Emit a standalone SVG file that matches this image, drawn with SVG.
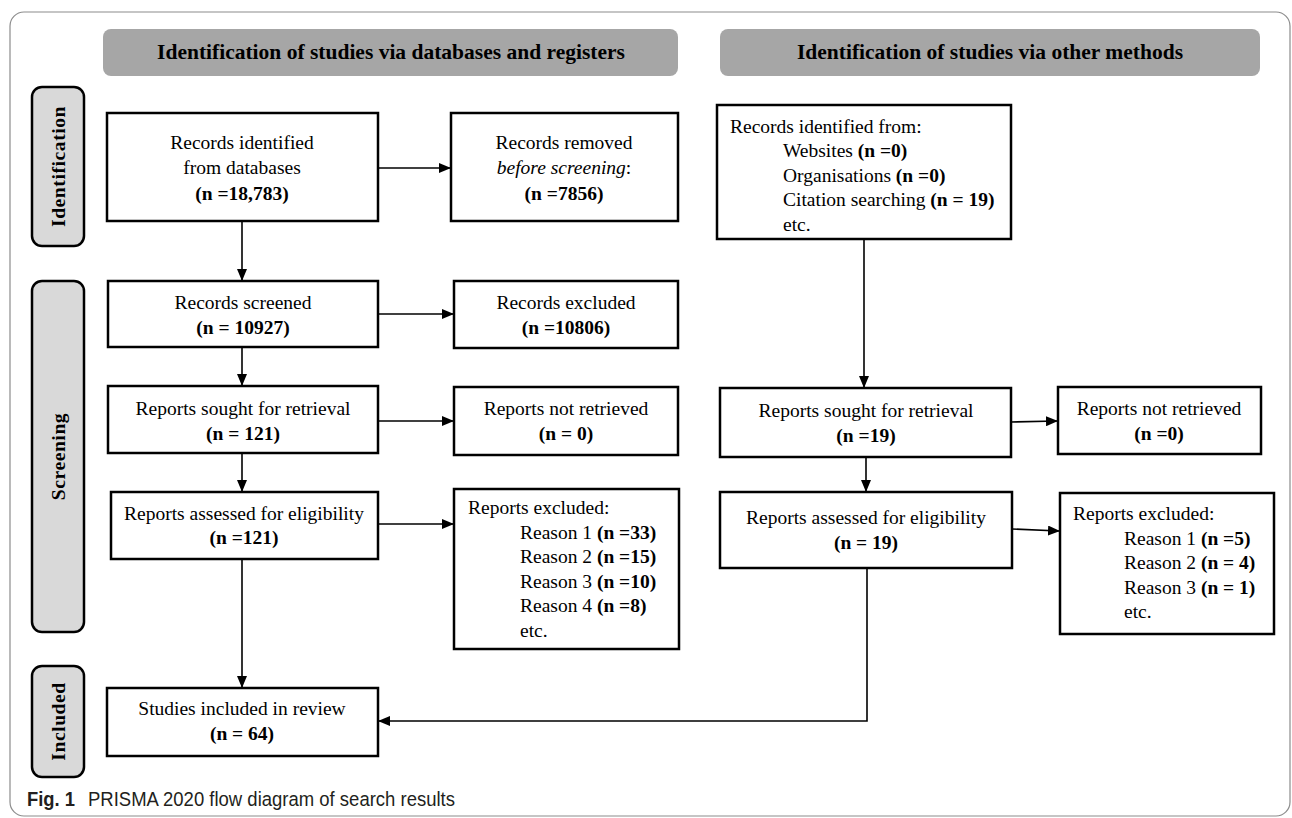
<svg xmlns="http://www.w3.org/2000/svg" width="1292" height="818" viewBox="0 0 1292 818">
<style>
.frame{fill:#fff;stroke:#8c8c8c;stroke-width:1.2}
.hdr{fill:#a6a6a6;stroke:none}
.side{fill:#d9d9d9;stroke:#000;stroke-width:2.5}
.box{fill:#fff;stroke:#000;stroke-width:2.5}
.t{font-family:"Liberation Serif","Times New Roman",serif;font-size:19.5px;fill:#000}
.c{text-anchor:middle}
.b{font-weight:bold}
.ht{font-family:"Liberation Serif","Times New Roman",serif;font-size:21.5px;font-weight:bold;fill:#000;text-anchor:middle}
.st{font-family:"Liberation Serif","Times New Roman",serif;font-size:19.5px;font-weight:bold;fill:#000;text-anchor:middle;letter-spacing:0.6px}
.con{fill:none;stroke:#000;stroke-width:1.6}
.cap{font-family:"Liberation Sans",Arial,sans-serif;font-size:20.5px;fill:#231f20}
</style>
<defs>
<marker id="ah" markerUnits="userSpaceOnUse" markerWidth="12" markerHeight="10" refX="11" refY="5" orient="auto">
<path d="M0,0 L12,5 L0,10 Z" fill="#000"/>
</marker>
</defs>
<rect class="frame" x="10" y="12" width="1280" height="804" rx="14"/>

<g id="header-db"><rect class="hdr" x="103" y="29" width="575" height="47" rx="8"/><text class="ht" x="391" y="59">Identification of studies via databases and registers</text></g>
<g id="header-other"><rect class="hdr" x="720" y="29" width="540" height="47" rx="8"/><text class="ht" x="990" y="59">Identification of studies via other methods</text></g>

<g id="label-identification"><rect class="side" x="32" y="87" width="52" height="159" rx="10"/><text class="st" transform="translate(65,166.5) rotate(-90)">Identification</text></g>
<g id="label-screening"><rect class="side" x="32" y="281" width="52" height="351" rx="10"/><text class="st" transform="translate(65,456.5) rotate(-90)">Screening</text></g>
<g id="label-included"><rect class="side" x="32" y="666" width="52" height="111" rx="10"/><text class="st" transform="translate(65,721.5) rotate(-90)">Included</text></g>

<g id="connectors">
<line class="con" x1="378" y1="168" x2="450" y2="168" marker-end="url(#ah)"/>
<line class="con" x1="242" y1="221" x2="242" y2="280" marker-end="url(#ah)"/>
<line class="con" x1="378" y1="314" x2="453" y2="314" marker-end="url(#ah)"/>
<line class="con" x1="242" y1="347" x2="242" y2="385" marker-end="url(#ah)"/>
<line class="con" x1="378" y1="421" x2="453" y2="421" marker-end="url(#ah)"/>
<line class="con" x1="242" y1="453" x2="242" y2="491" marker-end="url(#ah)"/>
<line class="con" x1="378" y1="524" x2="453" y2="524" marker-end="url(#ah)"/>
<line class="con" x1="242" y1="559" x2="242" y2="687" marker-end="url(#ah)"/>
<line class="con" x1="864" y1="239" x2="864" y2="387" marker-end="url(#ah)"/>
<line class="con" x1="1011" y1="422" x2="1057" y2="421" marker-end="url(#ah)"/>
<line class="con" x1="866" y1="457" x2="866" y2="491" marker-end="url(#ah)"/>
<line class="con" x1="1012" y1="529" x2="1059" y2="531" marker-end="url(#ah)"/>
<polyline class="con" points="867,568 867,721 379,721" marker-end="url(#ah)"/>
</g>

<g id="records-identified"><rect class="box" x="107" y="113" width="271" height="108"/>
<text class="t c" x="242" y="148.5">Records identified</text>
<text class="t c" x="242" y="174">from databases</text>
<text class="t c b" x="242" y="199.5">(n =18,783)</text></g>

<g id="records-removed"><rect class="box" x="451" y="113" width="227" height="108"/>
<text class="t c" x="564" y="148.5">Records removed</text>
<text class="t c" x="564" y="174"><tspan font-style="italic">before screening</tspan>:</text>
<text class="t c b" x="564" y="199.5">(n =7856)</text></g>

<g id="records-other"><rect class="box" x="717" y="105" width="294" height="134"/>
<text class="t" x="730" y="132.5">Records identified from:</text>
<text class="t" x="783" y="157">Websites <tspan class="b">(n =0)</tspan></text>
<text class="t" x="783" y="181.5">Organisations <tspan class="b">(n =0)</tspan></text>
<text class="t" x="783" y="206">Citation searching <tspan class="b">(n = 19)</tspan></text>
<text class="t" x="783" y="230.5">etc.</text></g>

<g id="records-screened"><rect class="box" x="108" y="281" width="270" height="66"/>
<text class="t c" x="243" y="308.5">Records screened</text>
<text class="t c b" x="243" y="333.5">(n = 10927)</text></g>

<g id="records-excluded"><rect class="box" x="454" y="281" width="224" height="67"/>
<text class="t c" x="566" y="308.5">Records excluded</text>
<text class="t c b" x="566" y="333.5">(n =10806)</text></g>

<g id="reports-sought"><rect class="box" x="108" y="386" width="270" height="67"/>
<text class="t c" x="243" y="414.5">Reports sought for retrieval</text>
<text class="t c b" x="243" y="439.5">(n = 121)</text></g>

<g id="reports-not-retrieved"><rect class="box" x="454" y="387" width="224" height="68"/>
<text class="t c" x="566" y="414.5">Reports not retrieved</text>
<text class="t c b" x="566" y="439.5">(n = 0)</text></g>

<g id="reports-assessed"><rect class="box" x="111" y="492" width="267" height="67"/>
<text class="t c" x="244" y="519.5">Reports assessed for eligibility</text>
<text class="t c b" x="244" y="543.5">(n =121)</text></g>

<g id="reports-excluded"><rect class="box" x="454" y="489" width="225" height="160"/>
<text class="t" x="468" y="513.5">Reports excluded:</text>
<text class="t" x="520" y="538.5">Reason 1 <tspan class="b">(n =33)</tspan></text>
<text class="t" x="520" y="563">Reason 2 <tspan class="b">(n =15)</tspan></text>
<text class="t" x="520" y="587.5">Reason 3 <tspan class="b">(n =10)</tspan></text>
<text class="t" x="520" y="612">Reason 4 <tspan class="b">(n =8)</tspan></text>
<text class="t" x="520" y="636.5">etc.</text></g>

<g id="studies-included"><rect class="box" x="107" y="688" width="271" height="68"/>
<text class="t c" x="242" y="715">Studies included in review</text>
<text class="t c b" x="242" y="740">(n = 64)</text></g>

<g id="reports-sought-other"><rect class="box" x="720" y="388" width="291" height="69"/>
<text class="t c" x="866" y="416.5">Reports sought for retrieval</text>
<text class="t c b" x="866" y="441.5">(n =19)</text></g>

<g id="reports-not-retrieved-other"><rect class="box" x="1058" y="387" width="203" height="67"/>
<text class="t c" x="1159" y="414.5">Reports not retrieved</text>
<text class="t c b" x="1159" y="439.5">(n =0)</text></g>

<g id="reports-assessed-other"><rect class="box" x="720" y="492" width="292" height="76"/>
<text class="t c" x="866" y="523.5">Reports assessed for eligibility</text>
<text class="t c b" x="866" y="548.5">(n = 19)</text></g>

<g id="reports-excluded-other"><rect class="box" x="1060" y="493" width="214" height="141"/>
<text class="t" x="1073" y="519.5">Reports excluded:</text>
<text class="t" x="1124" y="544.5">Reason 1 <tspan class="b">(n =5)</tspan></text>
<text class="t" x="1124" y="569">Reason 2 <tspan class="b">(n = 4)</tspan></text>
<text class="t" x="1124" y="593.5">Reason 3 <tspan class="b">(n = 1)</tspan></text>
<text class="t" x="1124" y="618">etc.</text></g>

<text class="cap" x="27" y="806"><tspan font-weight="bold" textLength="48" lengthAdjust="spacingAndGlyphs">Fig. 1</tspan><tspan x="88" textLength="367" lengthAdjust="spacingAndGlyphs">PRISMA 2020 flow diagram of search results</tspan></text>
</svg>
